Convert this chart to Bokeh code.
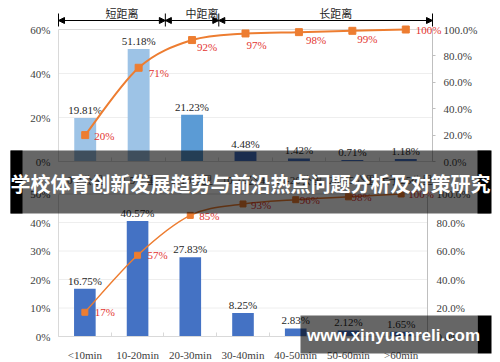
from bokeh.plotting import figure
from bokeh.models import (Range1d, LinearAxis, FixedTicker, PrintfTickFormatter, BoxAnnotation,
                          Label, Arrow, NormalHead, ColumnDataSource)
from bokeh.core.properties import value
from bokeh.embed import file_html
from bokeh.resources import INLINE

# ---------------- data ----------------
dist_cats = ["0-2公里", "2-5公里", "5-10公里", "10-15公里", "15-20公里", "20-25公里", "大于25公里"]
dist_share = [19.81, 51.18, 21.23, 4.48, 1.42, 0.71, 1.18]
dist_cum = [20, 71, 92, 97, 98, 99, 100]
dist_groups = ["短距离", "中距离", "长距离"]
dist_group_sizes = [2, 1, 4]

time_cats = ["<10min", "10-20min", "20-30min", "30-40min", "40-50min", "50-60min", ">60min"]
time_share = [16.75, 40.57, 27.83, 8.25, 2.83, 2.12, 1.65]
time_cum = [17, 57, 85, 93, 96, 98, 100]

top_left_ticks = [0, 20, 40, 60]
top_right_ticks = [0, 20, 40, 60, 80, 100]
bot_left_ticks = [0, 10, 20, 30, 40, 50]
bot_right_ticks = [0, 20, 40, 60, 80, 100]

title_text = "学校体育创新发展趋势与前沿热点问题分析及对策研究"
watermark_text = "www.xinyuanreli.com"

# ---------------- styles / layout (reference pixel coords) ----------------
W, H = 500, 362
FX0, FX1 = 0, 500
FY0, FY1 = 0, 362

dist_group_colors = ["#9DC3E6", "#5B9BD5", "#4472C4"]
time_bar_color = "#4472C4"
LINE_C = "#ED7D31"
RED = "#E3342F"
TXT = "#404040"
SERIF = "Liberation Serif"
GRID_C = "#EEEEEE"
AXIS_C = "#D9D9D9"

top_dx = [9, 10, 5, 1, 7, 5, 10]
top_dy = [1, 5, 7, 12, 8, 8, 0]
bot_dx = [10, 10, 9, 8, 4, 3, 7]
bot_dy = [0, 0, 1, 1, 0, 0, 0]


def xrange_for(v0, p0, v1, p1):
    k = (v1 - v0) / (p1 - p0)
    return Range1d(start=v0 + (FX0 - p0) * k, end=v0 + (FX1 - p0) * k)


def yrange_for(v0, p0, v1, p1):
    k = (v1 - v0) / (p1 - p0)
    return Range1d(start=v0 + (FY1 - p0) * k, end=v0 + (FY0 - p0) * k)


p = figure(width=W, height=H, x_range=Range1d(FX0, FX1), y_range=Range1d(FY1, FY0),
           x_axis_type=None, y_axis_type=None, toolbar_location=None,
           output_backend="svg", min_border=0)
p.outline_line_color = None
p.background_fill_color = "white"
p.border_fill_color = "white"

n = len(dist_cats)
p.extra_x_ranges = {
    "tx": xrange_for(0.5, 58, n + 0.5, 432),
    "bx": xrange_for(0.5, 58, len(time_cats) + 0.5, 427),
}
p.extra_y_ranges = {
    "tl": yrange_for(0, 161, top_left_ticks[-1], 29),
    "tr": yrange_for(0, 161, top_right_ticks[-1], 29),
    "bl": yrange_for(0, 336, bot_left_ticks[-1], 193.5),
    "br": yrange_for(0, 336, bot_right_ticks[-1], 193.5),
}


def smooth(xs, ys):
    d = dict(x0=[], y0=[], x1=[], y1=[], cx0=[], cy0=[], cx1=[], cy1=[])
    m = len(xs)
    for i in range(m - 1):
        xm, ym = (xs[i - 1], ys[i - 1]) if i > 0 else (xs[i], ys[i])
        xp, yp = (xs[i + 2], ys[i + 2]) if i + 2 < m else (xs[i + 1], ys[i + 1])
        d["x0"].append(xs[i]); d["y0"].append(ys[i])
        d["x1"].append(xs[i + 1]); d["y1"].append(ys[i + 1])
        d["cx0"].append(xs[i] + (xs[i + 1] - xm) / 6)
        d["cy0"].append(ys[i] + (ys[i + 1] - ym) / 6)
        d["cx1"].append(xs[i + 1] - (xp - xs[i]) / 6)
        d["cy1"].append(ys[i + 1] - (yp - ys[i]) / 6)
    return ColumnDataSource(d)


def chart(cats, share, cum, colors, xr, yl, yr, lticks, rticks, dx, dy,
          msize, lwidth, rtick_out, rstandoff):
    m = len(cats)
    idx = list(range(1, m + 1))
    # gridlines + top border
    gy = lticks[1:]
    p.segment(x0=[0.5] * len(gy), x1=[m + 0.5] * len(gy), y0=gy, y1=gy,
              line_color=[GRID_C] * (len(gy) - 1) + [AXIS_C], line_width=1,
              x_range_name=xr, y_range_name=yl)
    # bars
    p.vbar(x=idx, top=share, bottom=0, width=0.41, fill_color=colors, line_color=None,
           x_range_name=xr, y_range_name=yl)
    p.text(x=idx, y=share, text=[f"{v:.2f}%" for v in share], text_align="center",
           text_baseline="alphabetic", y_offset=-8, text_font=value(SERIF),
           text_font_size="11px", text_color="#262626", x_range_name=xr, y_range_name=yl)
    # cumulative line
    p.bezier(x0="x0", y0="y0", x1="x1", y1="y1", cx0="cx0", cy0="cy0", cx1="cx1", cy1="cy1",
             source=smooth(idx, cum), line_color=LINE_C, line_width=lwidth,
             x_range_name=xr, y_range_name=yr)
    p.scatter(x=idx, y=cum, marker="square", size=msize, fill_color=LINE_C, line_color=LINE_C,
              x_range_name=xr, y_range_name=yr)
    p.text(x=idx, y=cum, text=[f"{v}%" for v in cum], x_offset=dx, y_offset=dy,
           text_align="left", text_baseline="middle", text_font=value(SERIF),
           text_font_size="11px", text_color=RED, x_range_name=xr, y_range_name=yr)
    # axes
    la = LinearAxis(x_range_name=xr, y_range_name=yl, fixed_location=0.5,
                    bounds=(lticks[0], lticks[-1]), ticker=FixedTicker(ticks=lticks),
                    formatter=PrintfTickFormatter(format="%d%%"))
    la.axis_line_color = AXIS_C
    la.major_tick_out = 0
    la.major_tick_in = 0
    la.minor_tick_line_color = None
    la.major_label_standoff = 8
    la.major_label_text_font = SERIF
    la.major_label_text_font_size = "11px"
    la.major_label_text_color = TXT
    p.add_layout(la, "left")

    ra = LinearAxis(x_range_name=xr, y_range_name=yr, fixed_location=m + 0.5,
                    bounds=(rticks[0], rticks[-1]), ticker=FixedTicker(ticks=rticks),
                    formatter=PrintfTickFormatter(format="%.1f%%"))
    ra.axis_line_color = "#BFBFBF"
    ra.major_tick_out = rtick_out
    ra.major_tick_in = 0
    ra.major_tick_line_color = "#BFBFBF"
    ra.minor_tick_line_color = None
    ra.major_label_standoff = rstandoff
    ra.major_label_text_font = SERIF
    ra.major_label_text_font_size = "11px"
    ra.major_label_text_color = TXT
    p.add_layout(ra, "right")

    xa = LinearAxis(x_range_name=xr, y_range_name=yl, fixed_location=0,
                    bounds=(0.5, m + 0.5),
                    ticker=FixedTicker(ticks=idx, minor_ticks=[i + 0.5 for i in range(m + 1)]))
    xa.major_label_overrides = {i: c for i, c in zip(idx, cats)}
    xa.axis_line_color = AXIS_C
    xa.major_tick_line_color = None
    xa.minor_tick_line_color = AXIS_C
    xa.minor_tick_in = 4
    xa.minor_tick_out = 0
    xa.major_label_standoff = 6
    xa.major_label_text_font = SERIF
    xa.major_label_text_font_size = "11px"
    xa.major_label_text_color = TXT
    p.add_layout(xa, "below")


# colours of the distance bars follow their group
dist_colors = []
for c, s in zip(dist_group_colors, dist_group_sizes):
    dist_colors += [c] * s

chart(dist_cats, dist_share, dist_cum, dist_colors, "tx", "tl", "tr",
      top_left_ticks, top_right_ticks, top_dx, top_dy, 7, 2, 3, 8)
chart(time_cats, time_share, time_cum, [time_bar_color] * len(time_cats), "bx", "bl", "br",
      bot_left_ticks, bot_right_ticks, bot_dx, bot_dy, 6, 1.5, 0, 9)

# group brackets above the distance chart
bnds = [0.5]
for s in dist_group_sizes:
    bnds.append(bnds[-1] + s)
centers = [(a + b) / 2 for a, b in zip(bnds[:-1], bnds[1:])]
p.segment(x0=bnds, x1=bnds, y0=[13] * len(bnds), y1=[26] * len(bnds), line_color="black",
          line_width=1, x_range_name="tx")
asrc = ColumnDataSource(dict(xs=bnds[:-1], xe=bnds[1:], y=[20] * len(centers)))
p.add_layout(Arrow(x_start="xs", y_start="y", x_end="xe", y_end="y", source=asrc,
                   start=NormalHead(size=6, fill_color="black", line_color="black"),
                   end=NormalHead(size=6, fill_color="black", line_color="black"),
                   line_color="black", line_width=1, x_range_name="tx"))
p.text(x=centers, y=[12] * len(centers), text=dist_groups, x_offset=10,
       text_align="center", text_baseline="middle", text_font=value("Noto Sans CJK SC"),
       text_font_size="11px", text_color="#262626", x_range_name="tx")

# dark banner with the title
p.add_layout(BoxAnnotation(left=10, right=490, top=150, bottom=213, fill_color="black",
                           fill_alpha=0.6, line_color=None))
p.add_layout(BoxAnnotation(left=10, right=22, top=150, bottom=213, fill_color="black",
                           fill_alpha=1, line_color=None))
p.add_layout(BoxAnnotation(left=477, right=491, top=150, bottom=213, fill_color="black",
                           fill_alpha=1, line_color=None))
p.add_layout(Label(x=250, y=183, text=title_text, text_align="center", text_baseline="middle",
                   text_font="Noto Sans CJK SC", text_font_style="bold",
                   text_font_size="20px", text_color="white"))

# watermark
p.add_layout(BoxAnnotation(left=300, right=477, top=315, bottom=353, fill_color="black",
                           fill_alpha=0.6, line_color=None))
p.add_layout(BoxAnnotation(left=477, right=491, top=315, bottom=353, fill_color="black",
                           fill_alpha=1, line_color=None))
p.add_layout(Label(x=393, y=335, text=watermark_text, text_align="center",
                   text_baseline="middle", text_font="Liberation Sans",
                   text_font_style="bold", text_font_size="17px", text_color="white"))

open("out.html", "w").write(file_html(p, INLINE))
